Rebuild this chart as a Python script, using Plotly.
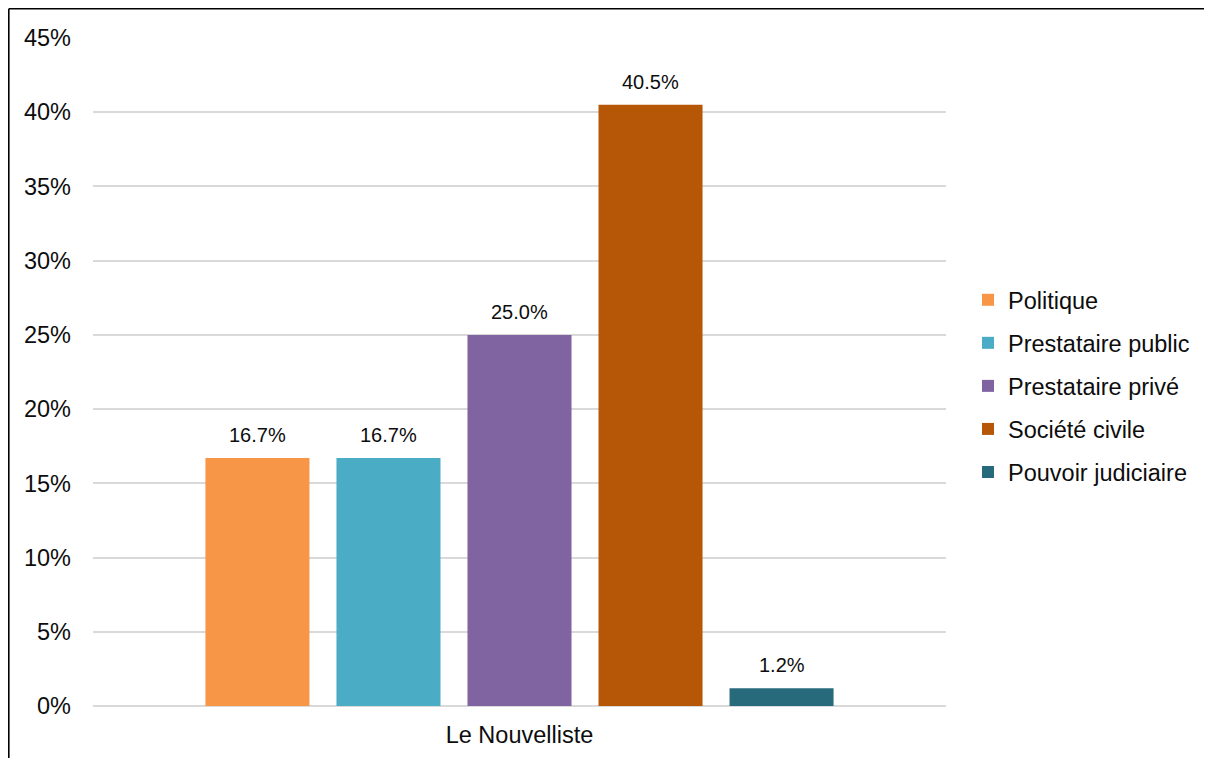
import plotly.graph_objects as go

categories = ["Le Nouvelliste"]
series_names = ["Politique", "Prestataire public", "Prestataire privé", "Société civile", "Pouvoir judiciaire"]
series_values = [16.7, 16.7, 25.0, 40.5, 1.2]
series_colors = ["#F79646", "#4BACC6", "#8064A2", "#B65708", "#276A7C"]
tick_vals = [0, 5, 10, 15, 20, 25, 30, 35, 40, 45]
tick_text = [f"{v}%" for v in tick_vals]

FONT = "Liberation Sans, Arial"
TXT = "#0d0d0d"

# figure is drawn inside the page's default 8px body margin
W, H = 1204, 750
L, T = 85, 30
pw, ph = 853, 668
R, B = W - L - pw, H - T - ph
BARGAP, GROUPGAP = 0.232, 0.206
n = len(series_names)
slot = pw * (1 - BARGAP) / n

fig = go.Figure()
annotations = []
for i, (name, val, col) in enumerate(zip(series_names, series_values, series_colors)):
    fig.add_trace(go.Bar(
        x=categories, y=[val], name=name, marker_color=col, marker_line_width=0,
        legendgroup=f"g{i}", hoverinfo="name+y",
    ))
    annotations.append(dict(
        x=categories[0], y=val, xref="x", yref="y",
        text=f"{val:.1f}%", showarrow=False,
        xshift=(i - (n - 1) / 2) * slot, yshift=23, yanchor="middle",
        font=dict(family=FONT, size=20, color=TXT),
    ))

fig.update_layout(
    width=W, height=H,
    margin=dict(l=L, r=R, t=T, b=B, autoexpand=False),
    paper_bgcolor="white", plot_bgcolor="white",
    barmode="group", bargap=BARGAP, bargroupgap=GROUPGAP,
    font=dict(family=FONT, size=23.5, color=TXT),
    showlegend=True,
    legend=dict(x=(968 - 93) / pw, y=(706 - 386) / ph, xanchor="left", yanchor="middle",
                traceorder="grouped", tracegroupgap=9.5,
                font=dict(size=23.5), itemwidth=30, bgcolor="rgba(0,0,0,0)"),
    xaxis=dict(showgrid=False, showline=False, ticks="", tickfont=dict(size=23.5),
               ticklabelstandoff=12),
    yaxis=dict(range=[0, 45], tickvals=tick_vals, ticktext=tick_text,
               showgrid=True, gridcolor="#D9D9D9", gridwidth=2,
               zeroline=True, zerolinecolor="#D9D9D9", zerolinewidth=2,
               showline=False, ticks="", ticklabelstandoff=21,
               tickfont=dict(size=23.5)),
    annotations=annotations,
    shapes=[
        dict(type="line", xref="paper", yref="paper",
             x0=(0.8 - L) / pw, x1=(W - L) / pw,
             y0=(ph + T - 0.8) / ph, y1=(ph + T - 0.8) / ph,
             line=dict(color="black", width=1.6)),
        dict(type="line", xref="paper", yref="paper",
             x0=(0.8 - L) / pw, x1=(0.8 - L) / pw,
             y0=(ph + T - 0.8) / ph, y1=-B / ph,
             line=dict(color="black", width=1.6)),
    ],
)

fig.write_html("out.html")
